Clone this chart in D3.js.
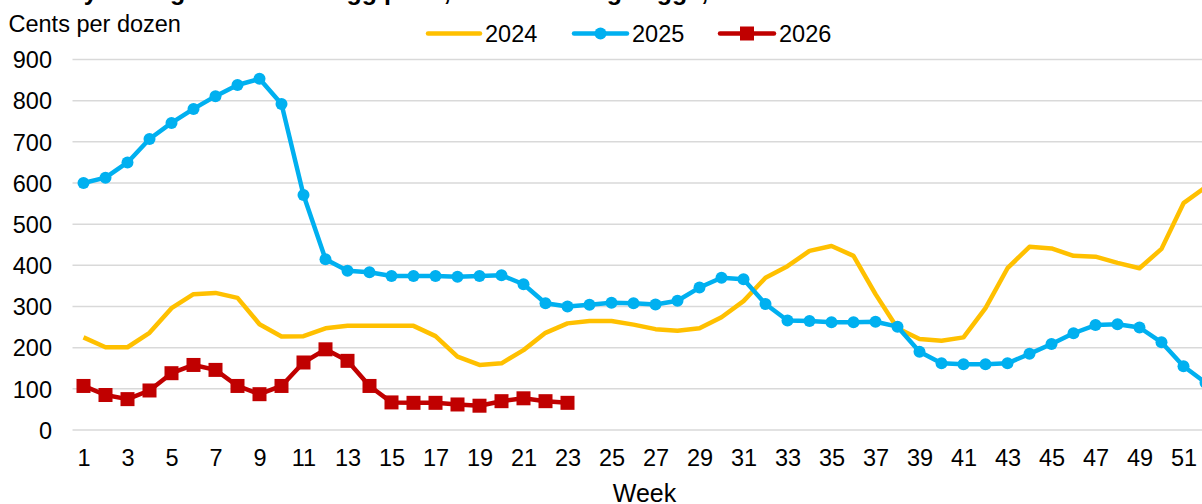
<!DOCTYPE html>
<html>
<head>
<meta charset="utf-8">
<script src="https://cdn.jsdelivr.net/npm/d3@7"></script>
<style>
  html, body { margin: 0; padding: 0; background: #fff; overflow: hidden; }
  svg { display: block; font-family: "Liberation Sans", Arial, sans-serif; }
</style>
</head>
<body>
<svg id="chart" width="1202" height="504"></svg>
<script>
const weeks = [1,2,3,4,5,6,7,8,9,10,11,12,13,14,15,16,17,18,19,20,21,22,23,24,25,26,
  27,28,29,30,31,32,33,34,35,36,37,38,39,40,41,42,43,44,45,46,47,48,49,50,51,52];
const xTickLabels = [1,3,5,7,9,11,13,15,17,19,21,23,25,27,29,31,33,35,37,39,41,43,45,47,49,51];
const yTickLabels = [0,100,200,300,400,500,600,700,800,900];

const values2024 = [225,201,201,236,296,330,333,321,257,227,228,247,253,253,253,253,228,178,158,162,
  194,236,259,265,265,256,245,241,247,274,313,370,398,435,447,423,330,247,221,217,
  225,296,393,445,441,423,421,406,393,440,551,590];
const values2025 = [600,613,650,707,746,780,811,838,853,792,571,415,387,383,374,374,374,372,374,376,
  354,308,300,304,309,308,305,314,346,370,366,306,266,265,262,262,263,251,190,162,
  160,160,162,185,209,235,255,257,249,213,155,115];
const values2026 = [107,85,75,96,138,158,146,107,87,107,164,196,168,107,67,66,66,62,59,70,77,70,66];

const seriesNames = ["2024", "2025", "2026"];
const colors = { "2024": "#FFC000", "2025": "#00B0F0", "2026": "#C00000" };

const titleText = "Weekly average wholesale egg price, New York large eggs, 2024–26";
const yAxisTitle = "Cents per dozen";
const xAxisTitle = "Week";

const svg = d3.select("#chart");
const plotLeft = 72.5, plotRight = 1216.5, plotTop = 59.5, plotBottom = 430;

const x = d3.scaleLinear().domain([0.5, 52.5]).range([plotLeft, plotRight]);
const y = d3.scaleLinear().domain([0, 900]).range([plotBottom, plotTop]);

// Title (cut off at top edge, as in the reference)
svg.append("text")
  .attr("x", 12).attr("y", -0.5)
  .attr("font-size", 25).attr("font-weight", "bold").attr("fill", "#000")
  .text(titleText);

// Gridlines
svg.append("g").selectAll("line").data(yTickLabels).join("line")
  .attr("x1", plotLeft).attr("x2", plotRight)
  .attr("y1", d => y(d)).attr("y2", d => y(d))
  .attr("stroke", "#D9D9D9").attr("stroke-width", 1.5);

// Y axis labels
const yAxis = d3.axisLeft(y).tickValues(yTickLabels).tickSize(0).tickPadding(0);
const yg = svg.append("g").attr("transform", `translate(52,0)`).call(yAxis);
yg.select(".domain").remove();
yg.selectAll("text").attr("font-size", 23.5).attr("fill", "#000")
  .attr("font-family", "Liberation Sans, Arial, sans-serif").attr("dy", "0.35em");

// X axis labels
const xAxis = d3.axisBottom(x).tickValues(xTickLabels).tickSize(0).tickPadding(0).tickFormat(d => d);
const xg = svg.append("g").attr("transform", `translate(0,${plotBottom})`).call(xAxis);
xg.select(".domain").remove();
xg.selectAll("text").attr("font-size", 23.5).attr("fill", "#000")
  .attr("font-family", "Liberation Sans, Arial, sans-serif").attr("dy", null).attr("y", 36);

// Axis titles
svg.append("text").attr("x", 8.5).attr("y", 32)
  .attr("font-size", 23.5).attr("fill", "#000").text(yAxisTitle);
svg.append("text").attr("x", (plotLeft + plotRight) / 2).attr("y", 502)
  .attr("text-anchor", "middle").attr("font-size", 25).attr("fill", "#000").text(xAxisTitle);

const line = d3.line().x(d => x(d.w)).y(d => y(d.v));
function toPts(vals) { return vals.map((v, i) => ({ w: weeks[i], v })); }

const d24 = toPts(values2024), d25 = toPts(values2025), d26 = toPts(values2026);

// 2024
svg.append("path").datum(d24).attr("d", line)
  .attr("fill", "none").attr("stroke", colors["2024"]).attr("stroke-width", 4.5)
  .attr("stroke-linejoin", "round");

// 2025
svg.append("path").datum(d25).attr("d", line)
  .attr("fill", "none").attr("stroke", colors["2025"]).attr("stroke-width", 4.5)
  .attr("stroke-linejoin", "round");
svg.append("g").selectAll("circle").data(d25).join("circle")
  .attr("cx", d => x(d.w)).attr("cy", d => y(d.v)).attr("r", 6)
  .attr("fill", colors["2025"]);

// 2026
svg.append("path").datum(d26).attr("d", line)
  .attr("fill", "none").attr("stroke", colors["2026"]).attr("stroke-width", 4.5)
  .attr("stroke-linejoin", "round");
const sq = 14;
svg.append("g").selectAll("rect").data(d26).join("rect")
  .attr("x", d => x(d.w) - sq / 2).attr("y", d => y(d.v) - sq / 2)
  .attr("width", sq).attr("height", sq).attr("fill", colors["2026"]);

// Legend
const legendItems = [
  { name: "2024", x1: 428, x2: 480, tx: 485, marker: null },
  { name: "2025", x1: 574, x2: 627, tx: 632, marker: "circle" },
  { name: "2026", x1: 720, x2: 774, tx: 779, marker: "square" }
];
const ly = 33.5;
const lg = svg.append("g");
legendItems.forEach(it => {
  lg.append("line").attr("x1", it.x1).attr("x2", it.x2).attr("y1", ly).attr("y2", ly)
    .attr("stroke", colors[it.name]).attr("stroke-width", 4.5).attr("stroke-linecap", "round");
  const cx = (it.x1 + it.x2) / 2;
  if (it.marker === "circle") {
    lg.append("circle").attr("cx", cx).attr("cy", ly).attr("r", 6).attr("fill", colors[it.name]);
  } else if (it.marker === "square") {
    lg.append("rect").attr("x", cx - sq / 2).attr("y", ly - sq / 2).attr("width", sq).attr("height", sq)
      .attr("fill", colors[it.name]);
  }
  lg.append("text").attr("x", it.tx).attr("y", ly).attr("dy", "0.35em")
    .attr("font-size", 23.5).attr("fill", "#000").text(it.name);
});
</script>
</body>
</html>
